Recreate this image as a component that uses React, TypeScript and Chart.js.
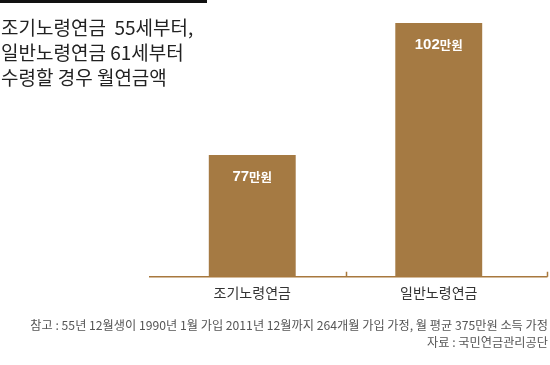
import React, { useEffect, useRef } from "react";
import { Chart, registerables } from "chart.js";

Chart.register(...registerables);

const categories = ["조기노령연금", "일반노령연금"];
const values = [77, 102];
const valueUnit = "만원";
const titleLines = ["조기노령연금  55세부터,", "일반노령연금 61세부터", "수령할 경우 월연금액"];
const noteLine = "참고 : 55년 12월생이 1990년 1월 가입 2011년 12월까지 264개월 가입 가정, 월 평균 375만원 소득 가정";
const sourceLine = "자료 : 국민연금관리공단";

const BAR = "#A57A43";
const AXIS = "#A8783D";
const KFONT = "'Noto Sans CJK KR', sans-serif";
const NFONT = "'Liberation Sans', Arial, sans-serif";

const baselinePlugin = {
  id: "baseline",
  afterDatasetsDraw(chart: any) {
    const { ctx, chartArea } = chart;
    const x = chart.scales.x;
    const y = chartArea.bottom + 0.5;
    ctx.save();
    ctx.strokeStyle = AXIS;
    ctx.lineWidth = 1.5;
    ctx.beginPath();
    ctx.moveTo(chartArea.left - 10, y);
    ctx.lineTo(chartArea.right + 15.5, y);
    const mid = (x.getPixelForValue(0) + x.getPixelForValue(1)) / 2;
    ctx.moveTo(Math.round(mid) + 0.5, y);
    ctx.lineTo(Math.round(mid) + 0.5, y - 5);
    ctx.moveTo(chartArea.right + 15.5, y);
    ctx.lineTo(chartArea.right + 15.5, y - 5);
    ctx.stroke();
    ctx.restore();
  },
};

const valueLabelPlugin = {
  id: "valueLabels",
  afterDatasetsDraw(chart: any) {
    const { ctx } = chart;
    const meta = chart.getDatasetMeta(0);
    ctx.save();
    ctx.fillStyle = "#ffffff";
    ctx.textBaseline = "middle";
    ctx.textAlign = "left";
    meta.data.forEach((bar: any, i: number) => {
      const num = String(values[i]);
      const numFont = `bold 15px ${NFONT}`;
      const unitFont = `bold 12.5px ${KFONT}`;
      ctx.font = numFont;
      const w1 = ctx.measureText(num).width;
      ctx.font = unitFont;
      const w2 = ctx.measureText(valueUnit).width;
      const start = bar.x - (w1 + w2) / 2;
      const cy = bar.y + 21.5;
      ctx.font = numFont;
      ctx.fillText(num, start, cy);
      ctx.font = unitFont;
      ctx.fillText(valueUnit, start + w1, cy + 0.5);
    });
    ctx.restore();
  },
};

export default function App() {
  const ref = useRef<HTMLCanvasElement | null>(null);
  useEffect(() => {
    if (!ref.current) return;
    const chart = new Chart(ref.current, {
      type: "bar",
      data: {
        labels: categories,
        datasets: [
          {
            data: values,
            backgroundColor: BAR,
            borderWidth: 0,
            categoryPercentage: 1,
            barPercentage: 0.466,
          },
        ],
      },
      options: {
        animation: false,
        responsive: false,
        layout: { padding: { left: 159, right: 18, top: 23, bottom: 64 } },
        plugins: { legend: { display: false }, tooltip: { enabled: false }, title: { display: false } },
        scales: {
          x: {
            grid: { display: false },
            border: { display: false },
            ticks: { color: "#333", font: { family: KFONT, size: 14 }, padding: 0 },
          },
          y: { display: false, min: 54, max: 102 },
        },
      },
      plugins: [baselinePlugin, valueLabelPlugin],
    });
    return () => chart.destroy();
  }, []);

  return (
    <div style={{ position: "fixed", left: 0, top: 0, width: 550, height: 365, background: "#fff", overflow: "hidden" }}>
      <canvas ref={ref} width={550} height={365} style={{ position: "absolute", left: 0, top: 0, width: 550, height: 365 }} />
      <div style={{ position: "absolute", left: 0, top: 0, width: 207, height: 3, background: "#111" }} />
      <div
        style={{
          position: "absolute",
          left: 1,
          top: 14,
          fontFamily: KFONT,
          fontSize: 19,
          lineHeight: "25px",
          color: "#222",
          whiteSpace: "pre",
        }}
      >
        {titleLines.map((t, i) => (
          <div key={i}>{t}</div>
        ))}
      </div>
      <div
        style={{
          position: "absolute",
          right: 2,
          top: 317,
          fontFamily: KFONT,
          fontSize: 12.2,
          lineHeight: "17px",
          color: "#555",
          textAlign: "right",
          whiteSpace: "pre",
        }}
      >
        <div>{noteLine}</div>
        <div>{sourceLine}</div>
      </div>
    </div>
  );
}
